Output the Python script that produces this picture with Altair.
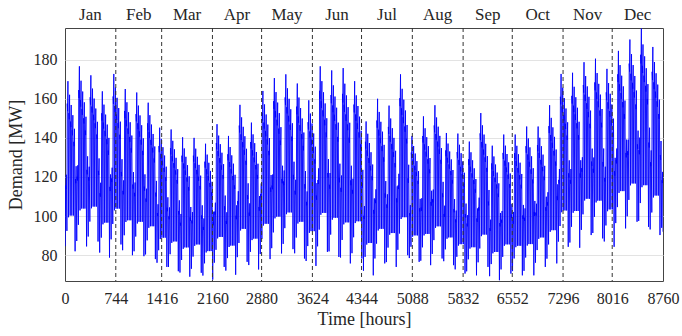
import altair as alt
import pandas as pd

# ---- data ----
month_names = ["Jan", "Feb", "Mar", "Apr", "May", "Jun",
               "Jul", "Aug", "Sep", "Oct", "Nov", "Dec"]
month_edges = [0, 744, 1416, 2160, 2880, 3624, 4344, 5088,
               5832, 6552, 7296, 8016, 8760]
y_ticks = [80, 100, 120, 140, 160, 180]

# weekly (Monday evening) peak demand [MW], 53 weeks
week_peak = [169, 176.6, 172, 163.8, 172.7, 165, 163.2, 158, 145.2, 144.3,
             140.3, 140, 137, 147, 141, 156.9, 147.8, 164, 170.6, 172.5,
             167.8, 159.2, 176.6, 174.5, 175.7, 169, 148.4, 160, 156.5, 172.5,
             141, 151, 156.7, 142.5, 142.2, 138.1, 152.7, 136, 141.7, 141.7,
             145.8, 145.8, 156.7, 172.7, 173.3, 178.7, 180.5, 175.3, 184.5, 190.3,
             195.9, 186.5, 160]
# weekly (weekend night) minimum demand [MW]
week_trough = [82, 84.5, 87, 78.8, 85.5, 80, 79.5, 78, 74, 71.8,
               69, 71, 67.5, 74, 70, 76.6, 72.7, 78, 80.9, 83.1,
               78.3, 74.5, 81.7, 79.1, 75.8, 78.3, 69.7, 75.8, 74, 80,
               76.6, 74.9, 78.3, 74.9, 70.6, 69.7, 74, 67.2, 70.6, 69.7,
               69.7, 74, 75.8, 84.3, 83.8, 90.3, 88.6, 84.3, 93.7, 97.1,
               94.5, 90.3, 92]
# day-of-week shape (Sun..Sat) as fraction of the weekly range
day_peak_frac = [0.45, 1.00, 0.92, 0.86, 0.80, 0.72, 0.50]
day_trough_frac = [0.03, 0.12, 0.20, 0.21, 0.21, 0.21, 0.0]
# within-day shape: hour of day and fraction of the day's swing
day_hours = [4, 9, 14, 19]
day_shape = [0.0, 0.85, 0.8, 1.0]

rows = []
for day in range(365):
    w, d = day // 7, day % 7
    P, T = week_peak[w], week_trough[w]
    lo = T + (P - T) * day_trough_frac[d]
    hi = T + (P - T) * day_peak_frac[d]
    for h, s in zip(day_hours, day_shape):
        rows.append({"hour": day * 24 + h, "demand": lo + (hi - lo) * s})
rows.append({"hour": 8760, "demand": week_trough[-1]})
df = pd.DataFrame(rows)

months = pd.DataFrame({
    "name": month_names,
    "mid": [(month_edges[i] + month_edges[i + 1]) / 2 for i in range(12)],
})
edges = pd.DataFrame({"hour": month_edges[1:-1]})

FONT = "Liberation Serif"
TXT = "#262626"
xscale = alt.Scale(domain=[0, 8760], nice=False, zero=False)
yscale = alt.Scale(domain=[66.8, 196.2], nice=False, zero=False)

line = alt.Chart(df).mark_line(color="#0000ff", strokeWidth=0.9, clip=True).encode(
    x=alt.X("hour:Q", scale=xscale,
            axis=alt.Axis(values=month_edges, format="d", title="Time [hours]", grid=False,
                          ticks=False, domain=False, labelPadding=9,
                          labelFontSize=16, titleFontSize=18, titlePadding=4,
                          labelColor=TXT, titleColor=TXT,
                          labelFont=FONT, titleFont=FONT, titleFontWeight="normal",
                          labelOverlap=False, labelFlush=False)),
    y=alt.Y("demand:Q", scale=yscale,
            axis=alt.Axis(values=y_ticks, format="d", title="Demand [MW]", grid=True,
                          gridColor="#e3e3e3", gridWidth=1,
                          ticks=False, domain=False, labelPadding=8,
                          labelFontSize=16, titleFontSize=18, titlePadding=8,
                          labelColor=TXT, titleColor=TXT,
                          labelFont=FONT, titleFont=FONT, titleFontWeight="normal")),
)

rules = alt.Chart(edges).mark_rule(color="#333333", strokeDash=[4, 3], strokeWidth=1).encode(
    x=alt.X("hour:Q", scale=xscale)
)

labels = alt.Chart(months).mark_text(font=FONT, fontSize=17, color=TXT,
                                     baseline="middle", align="center").encode(
    x=alt.X("mid:Q", scale=xscale),
    y=alt.value(-13),
    text="name:N",
)

chart = alt.layer(line, rules, labels).properties(
    width=598, height=253,
    padding={"left": 65, "top": 28, "right": 19, "bottom": 55},
    autosize=alt.AutoSizeParams(type="none"),
).configure(background="white", font=FONT).configure_view(stroke="#444444", strokeWidth=1)

chart.save("out.html", embed_options={"renderer": "svg", "actions": False})
